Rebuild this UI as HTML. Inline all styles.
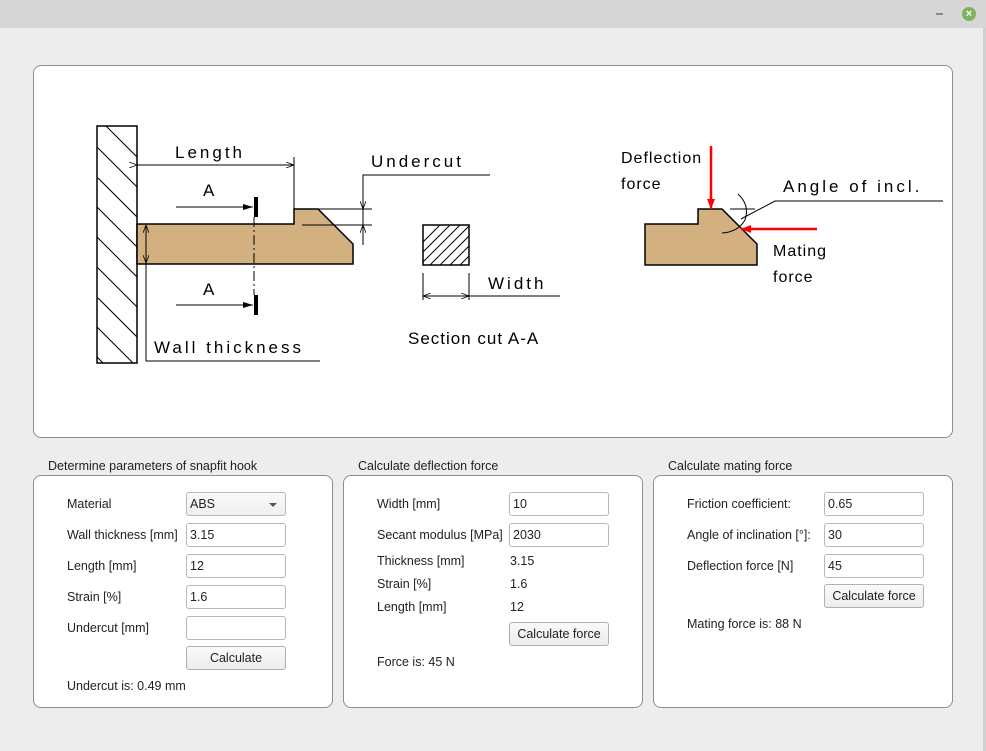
<!DOCTYPE html>
<html><head><meta charset="utf-8"><style>
body{margin:0;width:986px;height:751px;background:#ededed;font-family:"Liberation Sans",sans-serif;font-size:12.5px;color:#222;position:relative;overflow:hidden}
.tb{position:absolute;left:0;top:0;width:986px;height:28px;background:#d6d6d6}
.pn{position:absolute;background:#fff;border:1px solid #8e8e8e;border-radius:8px;box-sizing:border-box}
.t{position:absolute;white-space:nowrap}
.in{position:absolute;width:100px;height:24px;border:1px solid #b8b8b8;border-radius:3px;background:#fff;box-sizing:border-box;padding:4px 3px;line-height:15px}
.bt{position:absolute;height:24px;border:1px solid #b0b0b0;border-radius:3px;background:linear-gradient(#fafafa,#ececec);box-sizing:border-box;text-align:center;line-height:22px}
svg{position:absolute;left:0;top:0}
</style></head><body>
<div class="tb"></div>
<div style="position:absolute;left:936px;top:13px;width:7px;height:2px;background:#888"></div>
<div style="position:absolute;left:962px;top:7px;width:14px;height:14px;border-radius:50%;background:#7fb35a;color:#fff;font-size:11px;line-height:14px;text-align:center;font-weight:bold">×</div>
<div style="position:absolute;left:983px;top:28px;width:3px;height:723px;background:#d0d0d0"></div>
<div class="pn" style="left:33px;top:65px;width:920px;height:373px"></div>
<svg width="986" height="751" viewBox="0 0 986 751">
<defs>
<clipPath id="wc"><rect x="97" y="126" width="40" height="237"/></clipPath>
<clipPath id="sc"><rect x="423" y="225" width="46" height="40"/></clipPath>
<marker id="ar" markerWidth="8" markerHeight="6" refX="8" refY="3" orient="auto" markerUnits="userSpaceOnUse"><path d="M0,0 L8,3 L0,6" fill="none" stroke="#000" stroke-width="0.8"/></marker>
<marker id="af" markerWidth="10" markerHeight="6" refX="10" refY="3" orient="auto" markerUnits="userSpaceOnUse"><path d="M0,0 L10,3 L0,6z" fill="#000"/></marker>
<marker id="rd" markerWidth="10" markerHeight="8" refX="10" refY="4" orient="auto" markerUnits="userSpaceOnUse"><path d="M0,0 L10,4 L0,8z" fill="#f00"/></marker>
</defs>
<g clip-path="url(#wc)" stroke="#000" stroke-width="1">
<path d="M60,110 L160,210 M60,140 L160,240 M60,170 L160,270 M60,200 L160,300 M60,230 L160,330 M60,260 L160,360 M60,290 L160,390 M60,320 L160,420 M60,80 L160,180 M60,50 L160,150 M60,20 L160,120"/>
</g>
<rect x="97" y="126" width="40" height="237" fill="none" stroke="#000" stroke-width="1.5"/>
<polygon points="137,224 294,224 294,209 318,209 353,244 353,264 137,264" fill="#d2b07f" stroke="#000" stroke-width="1.5"/>
<line x1="137" y1="165" x2="294" y2="165" stroke="#000" marker-end="url(#ar)" marker-start="url(#ar)"/>
<line x1="294" y1="157" x2="294" y2="222" stroke="#000"/>
<text x="175" y="158" font-size="17" letter-spacing="3">Length</text>
<line x1="176" y1="207" x2="253" y2="207" stroke="#000" marker-end="url(#af)"/>
<rect x="254" y="197" width="4" height="20" fill="#000"/>
<text x="203" y="196" font-size="17">A</text>
<line x1="176" y1="305" x2="253" y2="305" stroke="#000" marker-end="url(#af)"/>
<rect x="254" y="295" width="4" height="20" fill="#000"/>
<text x="203" y="295" font-size="17">A</text>
<line x1="254" y1="217" x2="254" y2="295" stroke="#000" stroke-dasharray="10,3,2,3"/>
<path d="M363,245 L363,175 L490,175" fill="none" stroke="#000"/>
<line x1="363" y1="190" x2="363" y2="209" stroke="#000" marker-end="url(#ar)"/>
<line x1="363" y1="240" x2="363" y2="225" stroke="#000" marker-end="url(#ar)"/>
<line x1="318" y1="209" x2="372" y2="209" stroke="#000"/>
<line x1="302" y1="225" x2="372" y2="225" stroke="#000"/>
<text x="371" y="167" font-size="17" letter-spacing="3">Undercut</text>
<line x1="146" y1="244" x2="146" y2="225" stroke="#000" marker-end="url(#ar)"/>
<path d="M146,244 L146,361 L320,361" fill="none" stroke="#000"/>
<line x1="146" y1="244" x2="146" y2="263" stroke="#000" marker-end="url(#ar)"/>
<text x="154" y="353" font-size="17" letter-spacing="3">Wall thickness</text>
<g clip-path="url(#sc)" stroke="#000"><path d="M400,265 L440,225 M410,265 L450,225 M420,265 L460,225 M430,265 L470,225 M440,265 L480,225 M450,265 L490,225 M460,265 L500,225 M470,265 L510,225"/></g>
<rect x="423" y="225" width="46" height="40" fill="none" stroke="#000" stroke-width="1.5"/>
<line x1="423" y1="273" x2="423" y2="300" stroke="#000"/>
<line x1="469" y1="273" x2="469" y2="300" stroke="#000"/>
<line x1="446" y1="296" x2="423" y2="296" stroke="#000" marker-end="url(#ar)"/>
<line x1="446" y1="296" x2="469" y2="296" stroke="#000" marker-end="url(#ar)"/>
<line x1="469" y1="296" x2="560" y2="296" stroke="#000"/>
<text x="488" y="289" font-size="17" letter-spacing="3">Width</text>
<text x="408" y="344" font-size="17" letter-spacing="1">Section cut A-A</text>
<polygon points="645,224 698,224 698,209 722,209 757,244 757,265 645,265" fill="#d2b07f" stroke="#000" stroke-width="1.5"/>
<line x1="711" y1="146" x2="711" y2="209" stroke="#f00" stroke-width="2.5" marker-end="url(#rd)"/>
<line x1="817" y1="229" x2="741" y2="229" stroke="#f00" stroke-width="2.5" marker-end="url(#rd)"/>
<line x1="730" y1="209" x2="755" y2="209" stroke="#000"/>
<path d="M741,219 L775,201 L943,201" fill="none" stroke="#000"/>
<path d="M738,194 Q750,205 745,220 Q738,232 722,233" fill="none" stroke="#000"/>
<text x="621" y="163" font-size="16" letter-spacing="1">Deflection</text>
<text x="621" y="189" font-size="16" letter-spacing="1">force</text>
<text x="783" y="192" font-size="17" letter-spacing="3">Angle of incl.</text>
<text x="773" y="256" font-size="16" letter-spacing="1">Mating</text>
<text x="773" y="282" font-size="16" letter-spacing="1">force</text>
</svg>

<div class="t" style="left:48px;top:459px">Determine parameters of snapfit hook</div>
<div class="t" style="left:358px;top:459px">Calculate deflection force</div>
<div class="t" style="left:668px;top:459px">Calculate mating force</div>
<div class="pn" style="left:33px;top:475px;width:300px;height:233px"></div>
<div class="pn" style="left:343px;top:475px;width:300px;height:233px"></div>
<div class="pn" style="left:653px;top:475px;width:300px;height:233px"></div>

<div class="t" style="left:67px;top:497px">Material</div>
<div class="in" style="left:186px;top:492px;background:linear-gradient(#fafafa,#efefef)">ABS<span style="position:absolute;right:8px;top:10px;border-left:4px solid transparent;border-right:4px solid transparent;border-top:4px solid #555"></span></div>
<div class="t" style="left:67px;top:528px">Wall thickness [mm]</div><div class="in" style="left:186px;top:523px">3.15</div>
<div class="t" style="left:67px;top:559px">Length [mm]</div><div class="in" style="left:186px;top:554px">12</div>
<div class="t" style="left:67px;top:590px">Strain [%]</div><div class="in" style="left:186px;top:585px">1.6</div>
<div class="t" style="left:67px;top:621px">Undercut [mm]</div><div class="in" style="left:186px;top:616px"></div>
<div class="bt" style="left:186px;top:646px;width:100px">Calculate</div>
<div class="t" style="left:67px;top:679px">Undercut is: 0.49 mm</div>

<div class="t" style="left:377px;top:497px">Width [mm]</div><div class="in" style="left:509px;top:492px">10</div>
<div class="t" style="left:377px;top:528px">Secant modulus [MPa]</div><div class="in" style="left:509px;top:523px">2030</div>
<div class="t" style="left:377px;top:554px">Thickness [mm]</div><div class="t" style="left:510px;top:554px">3.15</div>
<div class="t" style="left:377px;top:577px">Strain [%]</div><div class="t" style="left:510px;top:577px">1.6</div>
<div class="t" style="left:377px;top:600px">Length [mm]</div><div class="t" style="left:510px;top:600px">12</div>
<div class="bt" style="left:509px;top:622px;width:100px">Calculate force</div>
<div class="t" style="left:377px;top:655px">Force is: 45 N</div>

<div class="t" style="left:687px;top:497px">Friction coefficient:</div><div class="in" style="left:824px;top:492px">0.65</div>
<div class="t" style="left:687px;top:528px">Angle of inclination [°]:</div><div class="in" style="left:824px;top:523px">30</div>
<div class="t" style="left:687px;top:559px">Deflection force [N]</div><div class="in" style="left:824px;top:554px">45</div>
<div class="bt" style="left:824px;top:584px;width:100px">Calculate force</div>
<div class="t" style="left:687px;top:617px">Mating force is: 88 N</div>
</body></html>
